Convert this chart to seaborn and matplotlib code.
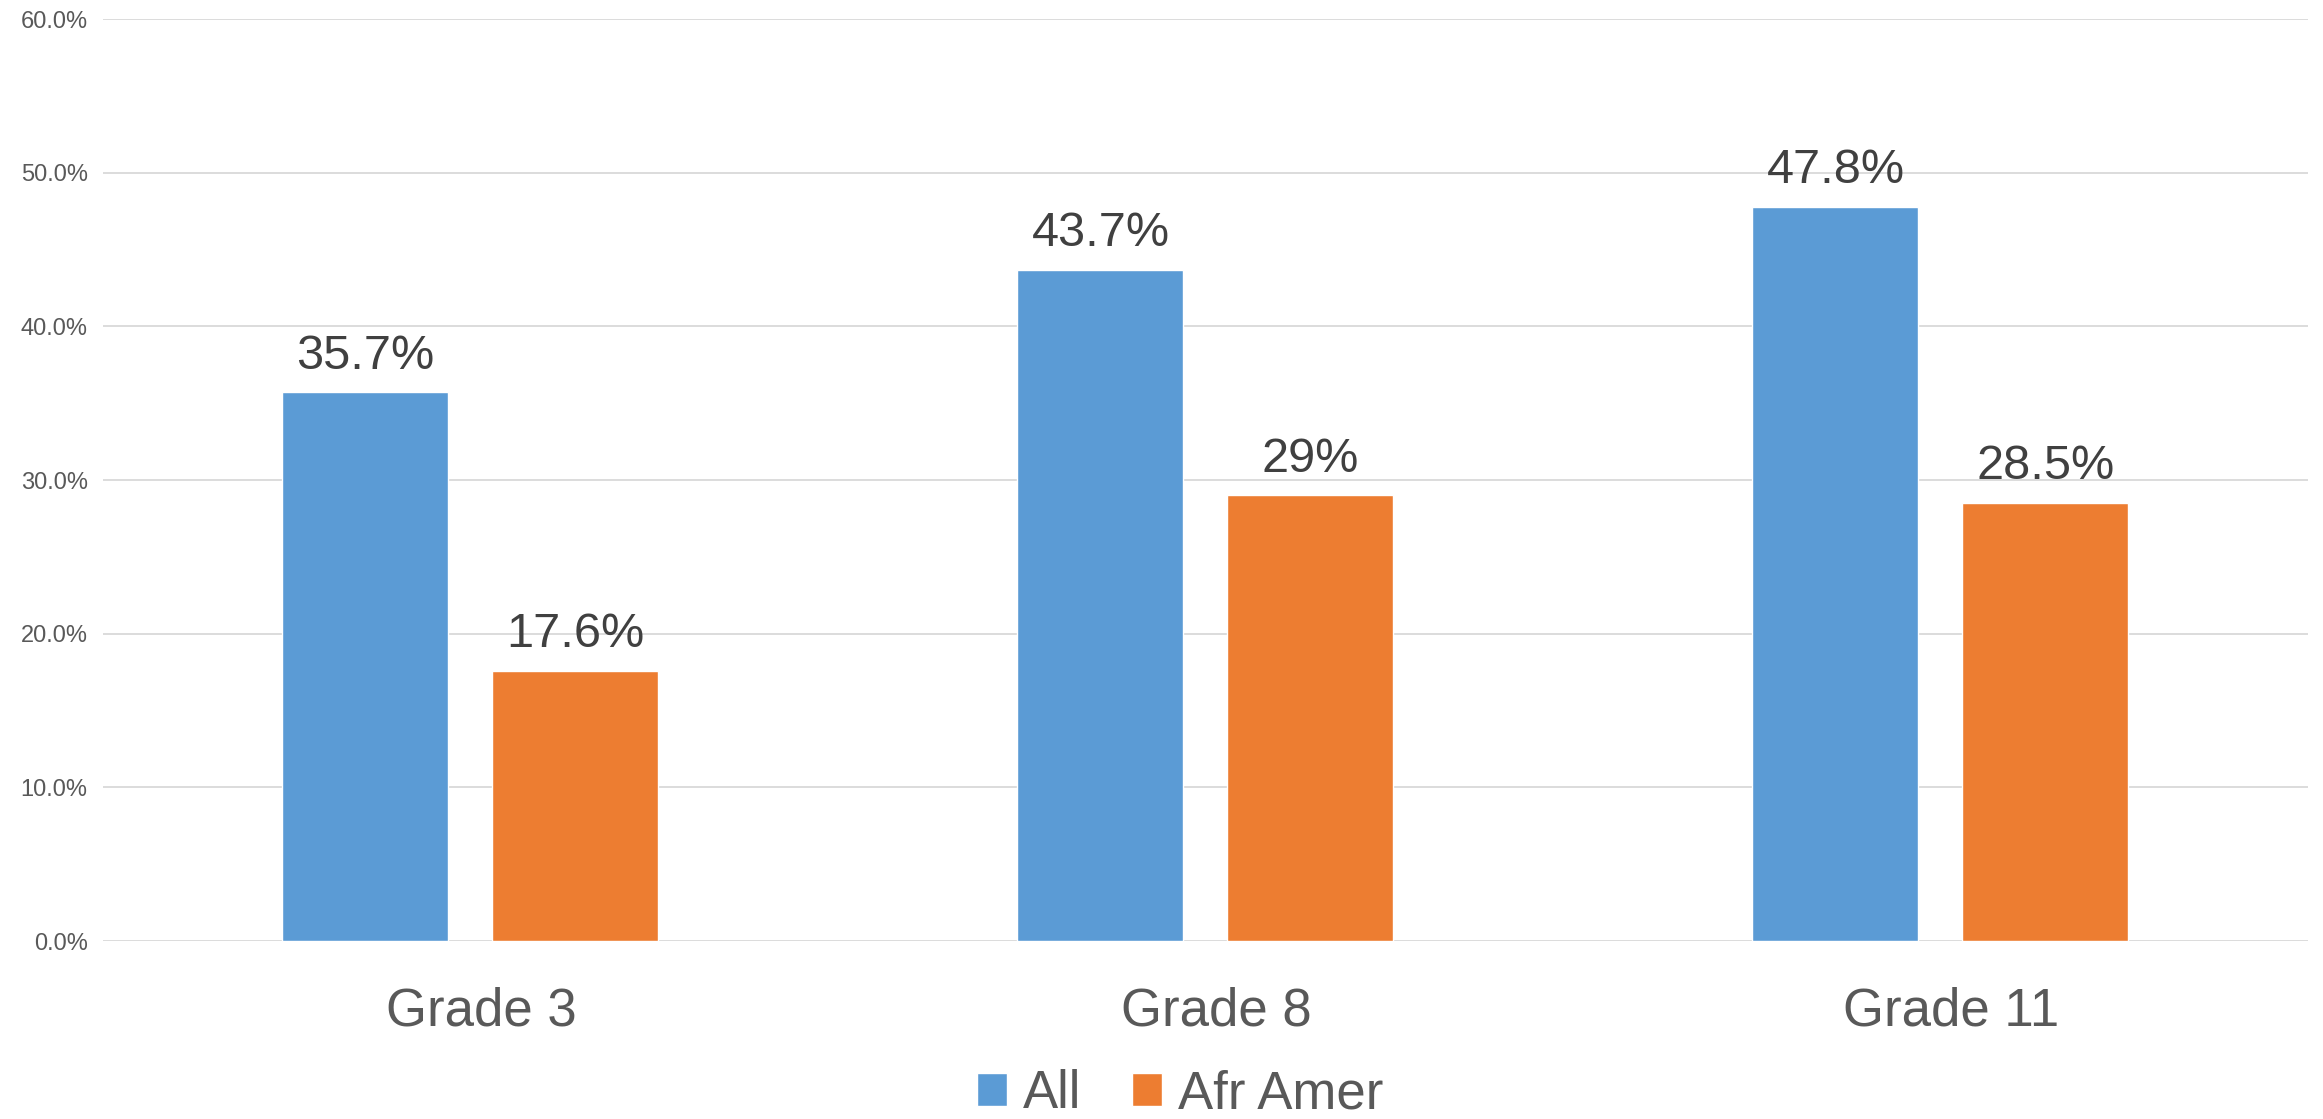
import matplotlib.pyplot as plt
import matplotlib.transforms as mtransforms
import pandas as pd
import seaborn as sns
from matplotlib.ticker import FuncFormatter

grades = ["Grade 3", "Grade 8", "Grade 11"]
all_pct = [35.7, 43.7, 47.8]
afr_amer_pct = [17.6, 29.0, 28.5]
all_labels = ["35.7%", "43.7%", "47.8%"]
afr_amer_labels = ["17.6%", "29%", "28.5%"]
groups = ["All", "Afr Amer"]
colors = ["#5B9BD5", "#ED7D31"]

df = pd.DataFrame({
    "grade": grades * 2,
    "group": [groups[0]] * 3 + [groups[1]] * 3,
    "pct": all_pct + afr_amer_pct,
})

sns.set_style("white")
plt.rcParams["font.family"] = ["Liberation Sans", "DejaVu Sans"]

fig = plt.figure(figsize=(23.23, 11.19), dpi=100)
ax = fig.add_axes([0.0443, 0.159, 0.9492, 0.824])

# bar width ~0.226 of a category, ~0.06 gap between the pair
sns.barplot(
    data=df, x="grade", y="pct", hue="group",
    palette=colors, width=0.571, gap=0.209,
    saturation=1, legend=True, ax=ax,
)

for cont, labels in zip(ax.containers, [all_labels, afr_amer_labels]):
    ax.bar_label(cont, labels=labels, padding=10, fontsize=35, color="#404040")

ax.set_ylim(0, 60)
ax.set_yticks(range(0, 61, 10))
ax.yaxis.set_major_formatter(FuncFormatter(lambda v, _: f"{v:.1f}%"))
ax.grid(axis="y", color="#D9D9D9", lw=1.3)
ax.set_axisbelow(True)
for s in ax.spines.values():
    s.set_visible(False)
ax.tick_params(axis="y", length=0, labelsize=17, labelcolor="#595959", pad=11)
ax.tick_params(axis="x", length=0, labelsize=38, labelcolor="#595959", pad=33)
ax.set_xlabel("")
ax.set_ylabel("")

# category labels sit a little right of the bar pair in the original
shift = mtransforms.ScaledTranslation(0.11, 0, fig.dpi_scale_trans)
for lab in ax.get_xticklabels():
    lab.set_transform(lab.get_transform() + shift)

handles, lbls = ax.get_legend_handles_labels()
ax.legend_.remove()
fig.legend(
    handles, lbls, loc="center", bbox_to_anchor=(0.508, 0.022),
    ncol=2, frameon=False, fontsize=38, labelcolor="#595959",
    handlelength=0.58, handleheight=0.58, handletextpad=0.3,
    columnspacing=0.95,
)

fig.savefig("out.png", dpi=100)
